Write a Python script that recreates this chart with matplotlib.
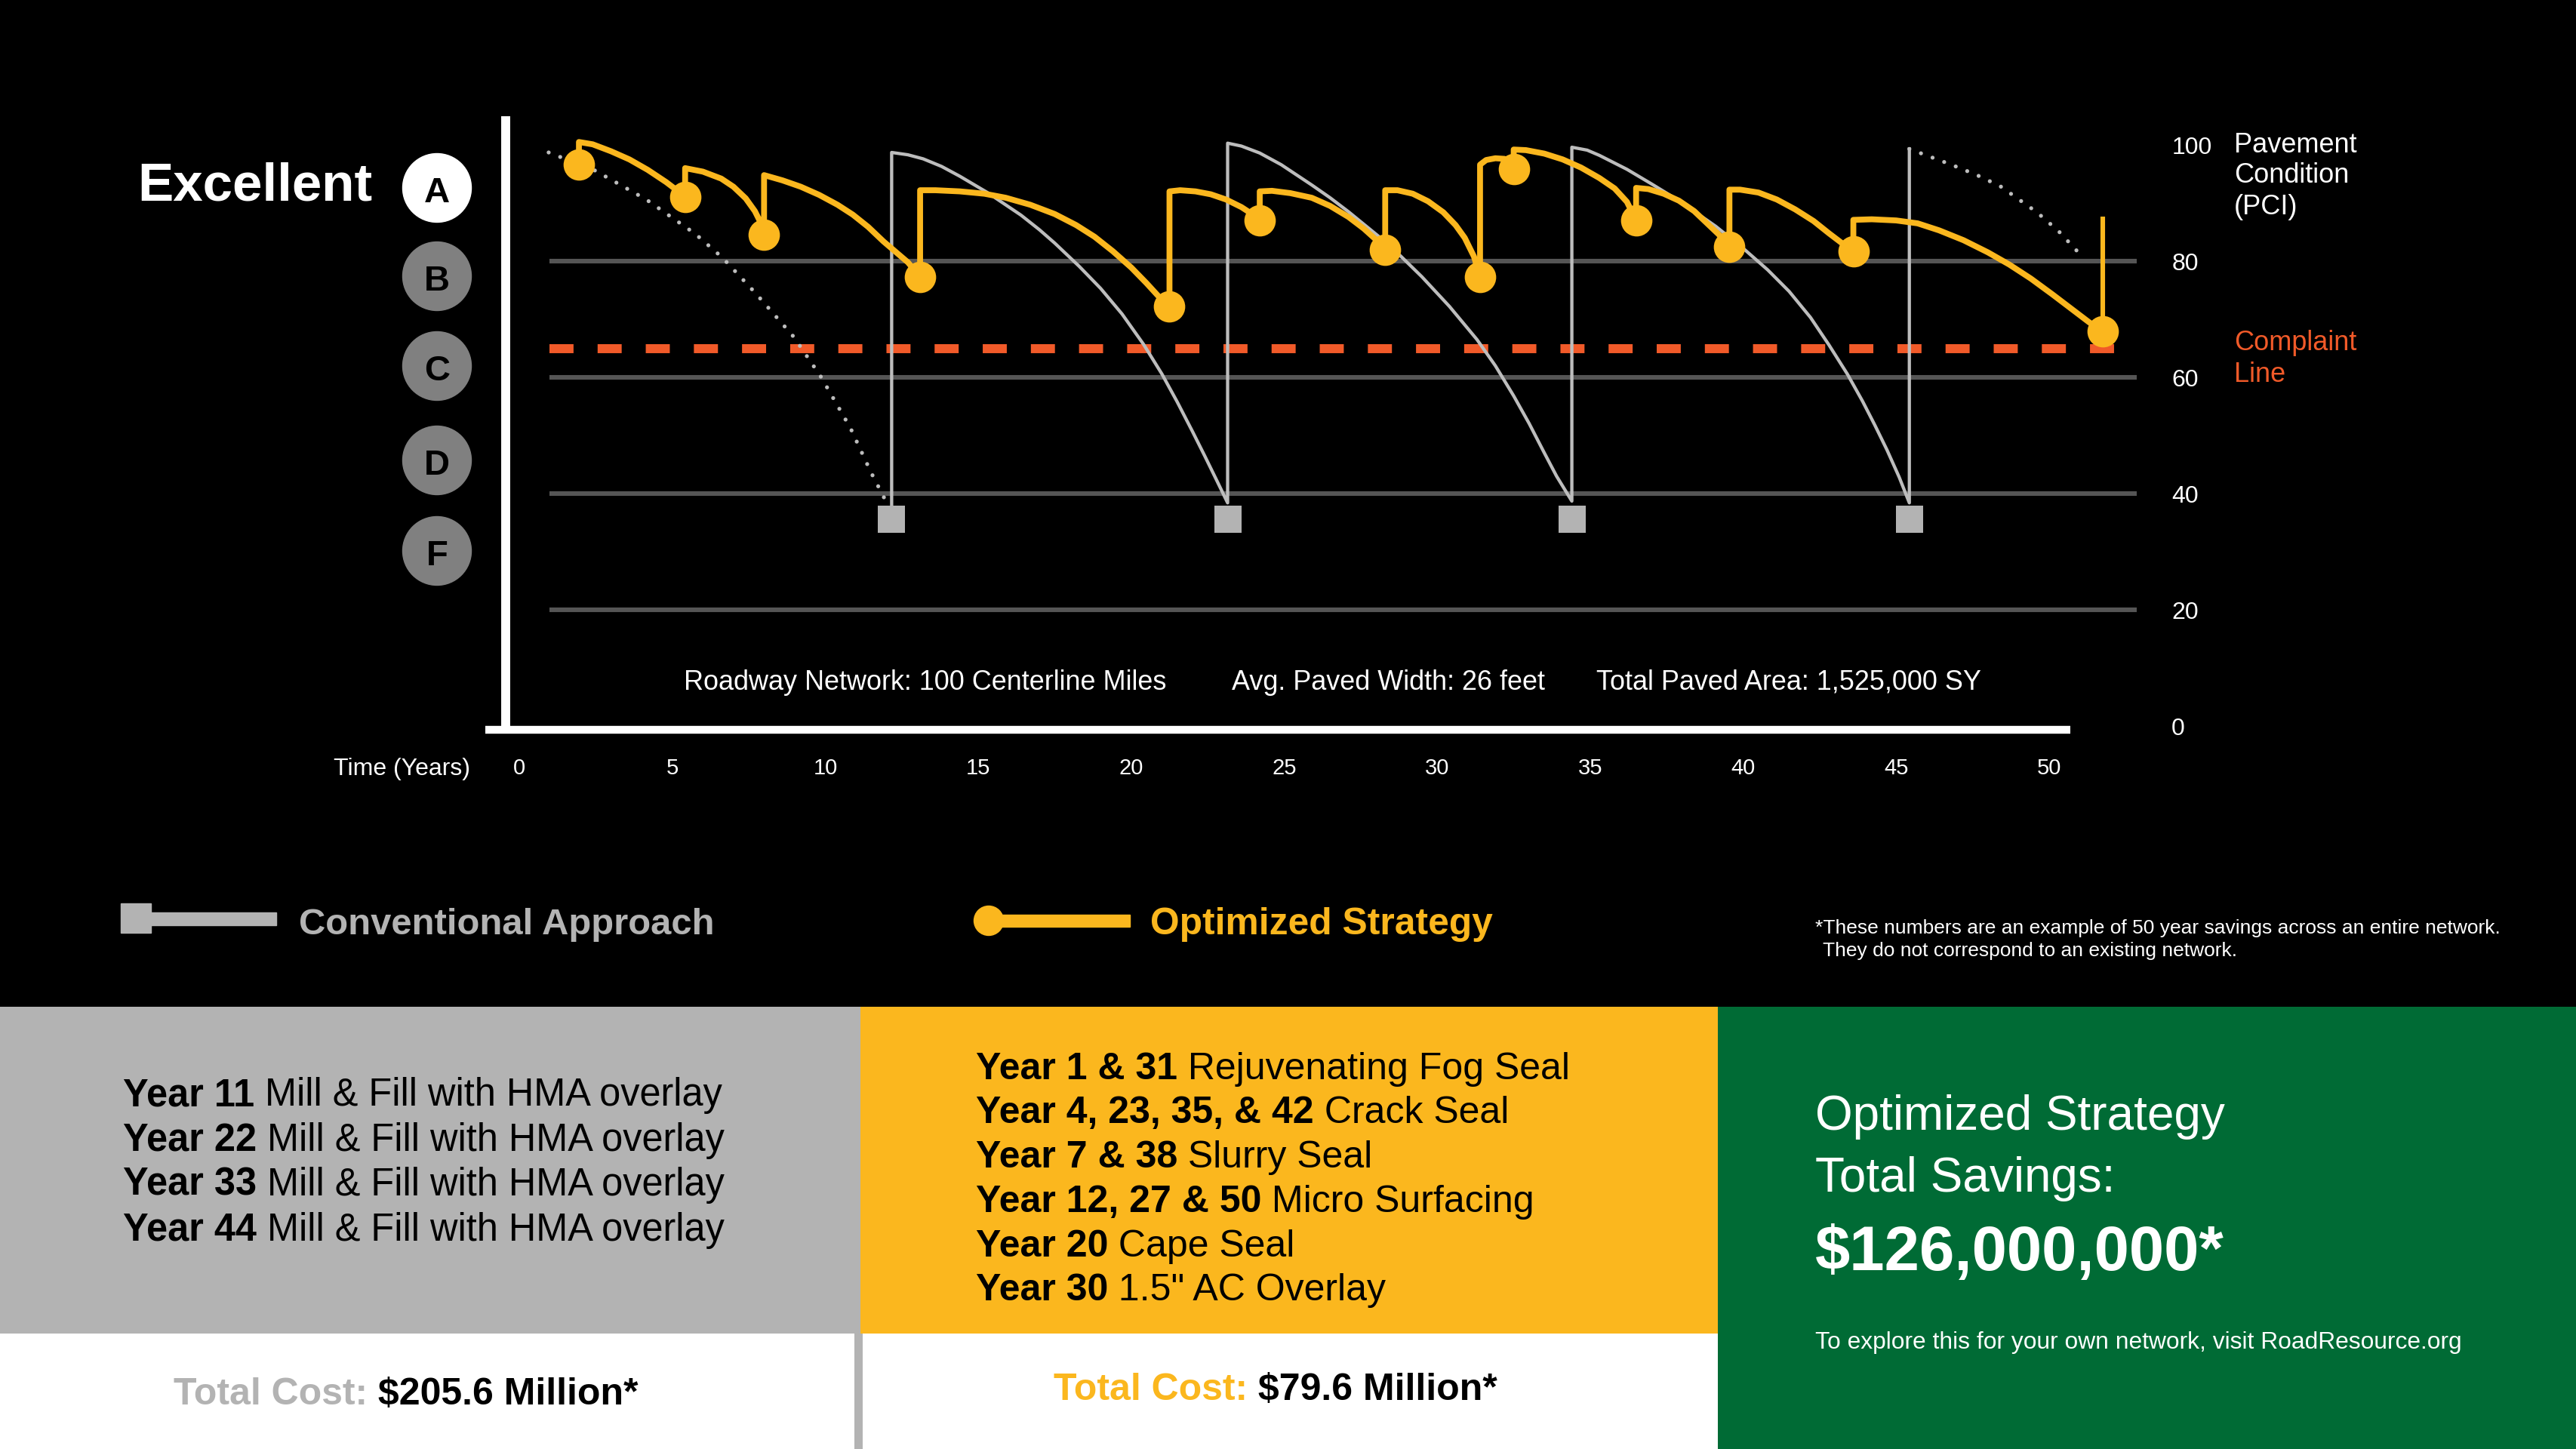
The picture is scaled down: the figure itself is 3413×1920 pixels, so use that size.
import matplotlib
matplotlib.use('Agg')
import matplotlib.pyplot as plt
from matplotlib.patches import Rectangle, Circle

plt.rcParams['font.family'] = ['Liberation Sans', 'DejaVu Sans']

W, H = 3413, 1920

# colours
YELLOW = '#FBB71E'
PANEL_GREY = '#B3B3B3'
GREEN = '#006B35'
ORANGE = '#F15A29'
GRID = '#555555'
CONV = '#BDBDBD'

# === data: x = years, y = PCI ===
year_ticks = [0, 5, 10, 15, 20, 25, 30, 35, 40, 45, 50]
pci_ticks = [0, 20, 40, 60, 80, 100]
grid_levels = [20, 40, 60, 80]
complaint_pci = 65

# conventional approach: dotted decay before the first mill & fill
conv_pre_years = [0.96, 2.47, 4.15, 5.75, 6.64, 7.72, 8.98, 9.87, 10.83, 11.5, 12.0]
conv_pre_pci = [98.7, 95.6, 90.6, 84.7, 80.6, 74.5, 66.9, 60.0, 51.2, 43.6, 38.5]

# conventional approach: solid saw-tooth (vertical jump, then decay)
conv_years = [12.17,
              12.17, 12.7, 13.2, 13.8, 14.4, 15.3, 16.4, 17.0, 17.5, 18.3, 19.0,
              19.7, 20.4, 21.0, 21.5, 22.0, 22.4, 22.8, 23.15,
              23.15, 23.6, 24.2, 24.9, 25.9, 26.5, 27.1, 28.1, 28.8, 29.5, 30.4,
              31.3, 31.9, 32.5, 33.0, 33.5, 33.9, 34.4,
              34.4, 34.9, 35.3, 36.2, 37.0, 37.9, 39.1, 40.0, 40.8, 41.5, 42.2,
              42.8, 43.4, 43.9, 44.3, 44.7, 45.1, 45.43,
              45.43]
conv_pci = [37.0,
            98.7, 98.3, 97.6, 96.3, 94.6, 91.8, 87.9, 85.4, 83.1, 79.1, 75.3,
            70.9, 65.7, 60.6, 55.8, 50.7, 46.5, 42.2, 38.4,
            100.3, 99.8, 98.6, 96.6, 93.1, 90.9, 88.5, 84.2, 80.9, 77.3, 72.2,
            66.5, 62.0, 56.8, 52.1, 47.0, 43.0, 38.7,
            99.6, 99.1, 98.2, 95.8, 93.3, 90.4, 86.0, 82.2, 78.5, 74.8, 70.3,
            65.6, 60.6, 55.9, 51.8, 47.5, 42.8, 38.4,
            99.3]

# conventional approach: dotted decay after the last mill & fill
conv_post_years = [45.43, 46.8, 47.6, 48.4, 49.6, 50.3, 50.9]
conv_post_pci = [99.3, 96.6, 94.9, 92.9, 88.4, 85.2, 81.8]

# mill & fill markers (grey squares)
mill_years = [12.17, 23.15, 34.4, 45.43]
mill_pci = [35.6, 35.6, 35.6, 35.6]

# optimized strategy path
opt_years = [1.95,
             1.95, 2.4, 3.0, 3.6, 4.2, 4.8, 5.1, 5.42,
             5.42, 6.0, 6.6, 7.0, 7.4, 7.7, 7.9, 8.0,
             8.0, 8.6, 9.2, 9.8, 10.4, 10.9, 11.4, 11.9, 12.3, 12.7, 13.1,
             13.1, 13.6, 14.4, 15.2, 15.9, 16.7, 17.5, 18.2, 18.8, 19.4, 20.0, 20.5, 20.9, 21.25,
             21.25, 21.6, 22.1, 22.6, 23.1, 23.6, 23.95, 24.2,
             24.2, 24.6, 25.2, 25.9, 26.5, 27.1, 27.6, 28.0, 28.3,
             28.3, 28.7, 29.2, 29.7, 30.2, 30.6, 30.9, 31.2, 31.4,
             31.4, 31.6, 31.9, 32.2, 32.5,
             32.5, 32.9, 33.5, 34.1, 34.7, 35.3, 35.8, 36.2, 36.5,
             36.5, 36.9, 37.4, 37.9, 38.4, 38.8, 39.2, 39.55,
             39.55, 39.9, 40.5, 41.1, 41.7, 42.3, 42.8, 43.2, 43.6,
             43.6, 44.2, 45.0, 45.7, 46.4, 47.2, 48.0, 48.7, 49.4, 50.1, 50.7, 51.3, 51.75]
opt_pci = [96.6,
           100.5, 100.1, 98.9, 97.5, 95.7, 93.6, 92.4, 91.0,
           96.0, 95.4, 94.2, 92.8, 90.8, 88.6, 86.5, 84.5,
           94.8, 93.9, 92.8, 91.4, 89.7, 88.0, 85.9, 83.4, 81.6, 79.8, 77.3,
           92.2, 92.2, 92.0, 91.6, 90.9, 89.7, 88.1, 86.2, 84.2, 81.7, 78.9, 76.2, 73.9, 72.2,
           92.0, 92.2, 92.0, 91.5, 90.6, 89.3, 88.1, 87.0,
           92.0, 92.1, 91.7, 90.9, 89.5, 87.6, 85.6, 83.7, 82.0,
           92.2, 92.2, 91.6, 90.3, 88.4, 86.2, 84.0, 80.8, 77.3,
           96.6, 97.4, 97.7, 97.6, 95.8,
           99.2, 99.1, 98.5, 97.5, 96.1, 94.3, 92.5, 90.2, 87.0,
           92.6, 92.4, 91.6, 90.4, 88.6, 86.6, 84.6, 82.5,
           92.3, 92.3, 91.8, 90.6, 88.9, 86.9, 84.8, 83.2, 81.7,
           87.1, 87.2, 87.0, 86.5, 85.3, 83.6, 81.5, 79.4, 77.0, 74.3, 71.9, 69.5, 67.9]

# treatments (yellow dots)
treat_years = [1.95, 5.42, 8.0, 13.1, 21.25, 24.2, 28.3, 31.4, 32.5, 36.5, 39.55, 43.6, 51.75]
treat_pci = [96.6, 91.0, 84.5, 77.3, 72.2, 87.0, 82.0, 77.3, 95.8, 87.0, 82.5, 81.7, 67.9]
last_years = [51.75, 51.75]
last_pci = [67.9, 87.7]

grades = ['A', 'B', 'C', 'D', 'F']

network_notes = ['Roadway Network: 100 Centerline Miles',
                 'Avg. Paved Width: 26 feet',
                 'Total Paved Area: 1,525,000 SY']

conv_plan = [('Year 11', ' Mill & Fill with HMA overlay'),
             ('Year 22', ' Mill & Fill with HMA overlay'),
             ('Year 33', ' Mill & Fill with HMA overlay'),
             ('Year 44', ' Mill & Fill with HMA overlay')]
opt_plan = [('Year 1 & 31', ' Rejuvenating Fog Seal'),
            ('Year 4, 23, 35, & 42', ' Crack Seal'),
            ('Year 7 & 38', ' Slurry Seal'),
            ('Year 12, 27 & 50', ' Micro Surfacing'),
            ('Year 20', ' Cape Seal'),
            ('Year 30', ' 1.5" AC Overlay')]
conv_cost = '$205.6 Million*'
opt_cost = '$79.6 Million*'
savings = '$126,000,000*'

# ---------------------------------------------------------------
fig = plt.figure(figsize=(W / 100, H / 100), dpi=100, facecolor='black')

# full-figure layer in pixel units (y down) for panels and free text
bg = fig.add_axes([0, 0, 1, 1], zorder=0)
bg.set_xlim(0, W)
bg.set_ylim(H, 0)
bg.axis('off')

# chart axes: year 0 -> x 688 px, 40.54 px/year; PCI 0 -> y 962 px, 7.7 px/PCI
x0, sx = 688.0, 40.54
y0, sy = 962.0, 7.7
xlim = (-2, 54)
ylim = (-9, 106)
left = x0 + xlim[0] * sx
right = x0 + xlim[1] * sx
top = y0 - ylim[1] * sy
bottom = y0 - ylim[0] * sy
ax = fig.add_axes([left / W, 1 - bottom / H, (right - left) / W, (bottom - top) / H], zorder=1)
ax.set_xlim(*xlim)
ax.set_ylim(*ylim)
ax.axis('off')

# grid + complaint line
for g in grid_levels:
    ax.plot([0.99, 52.86], [g, g], color=GRID, lw=4.4, solid_capstyle='butt', zorder=1)
ax.plot([0.99, 52.3], [complaint_pci, complaint_pci], color=ORANGE, lw=8.6,
        ls=(0, (2.67, 2.67)), dash_capstyle='butt', zorder=2)

# white axis lines
ax.plot([-0.44, -0.44], [-0.65, 104.9], color='white', lw=8.6, solid_capstyle='butt', zorder=5)
ax.plot([-1.11, 50.7], [-0.65, -0.65], color='white', lw=7.5, solid_capstyle='butt', zorder=5)

# conventional approach
dots = dict(color=CONV, lw=3.8, ls=(0, (0.01, 3.1)), dash_capstyle='round', zorder=3)
ax.plot(conv_pre_years, conv_pre_pci, **dots)
ax.plot(conv_post_years, conv_post_pci, **dots)
ax.plot(conv_years, conv_pci, color=CONV, lw=3.1, solid_joinstyle='round', zorder=3)
ax.plot(mill_years, mill_pci, 's', color=PANEL_GREY, ms=26, mew=0, zorder=3)

# optimized strategy
ax.plot(opt_years, opt_pci, color=YELLOW, lw=5.6, solid_joinstyle='round', zorder=4)
ax.plot(last_years, last_pci, color=YELLOW, lw=4.4, solid_capstyle='butt', zorder=4)
ax.plot(treat_years, treat_pci, 'o', color=YELLOW, ms=30, mew=0, zorder=4)

# tick labels
for yr in year_ticks:
    ax.text(yr, -6.9, str(yr), color='white', fontsize=21, ha='center', va='center_baseline')
ax.text(-1.6, -6.9, 'Time (Years)', color='white', fontsize=23, ha='right', va='center_baseline')
for p in pci_ticks:
    ax.text(54.0, p, str(p), color='white', fontsize=23, ha='left', va='center_baseline')

# labels right of the chart
for i, line in enumerate(['Pavement', 'Condition', '(PCI)']):
    bg.text(2960, 188 + i * 41, line, color='white', fontsize=26, ha='left', va='center_baseline')
for i, line in enumerate(['Complaint', 'Line']):
    bg.text(2960, 451 + i * 41, line, color=ORANGE, fontsize=26, ha='left', va='center_baseline')

# grade scale on the left
bg.text(493, 240, 'Excellent', color='white', fontsize=51, fontweight='bold',
        ha='right', va='center_baseline')
for i, (g, cy) in enumerate(zip(grades, [249, 366, 485, 610, 730])):
    face = 'white' if i == 0 else '#808080'
    bg.add_patch(Circle((579, cy), 45.5, color=face, zorder=2))
    bg.text(579, cy + 2, g, color='black', fontsize=34, fontweight='bold',
            ha='center', va='center_baseline', zorder=3)

for txt, x in zip(network_notes, [906, 1632, 2115]):
    bg.text(x, 900, txt, color='white', fontsize=25.9, ha='left', va='center_baseline')

# legend
bg.add_patch(Rectangle((160, 1197), 40, 39, color=PANEL_GREY))
bg.add_patch(Rectangle((200, 1209), 166, 17, color=PANEL_GREY))
bg.text(396, 1220, 'Conventional Approach', color=PANEL_GREY, fontsize=35.3,
        fontweight='bold', ha='left', va='center_baseline')
bg.add_patch(Circle((1310, 1220), 19.5, color=YELLOW))
bg.add_patch(Rectangle((1310, 1212), 187, 16, color=YELLOW))
bg.text(1524, 1220, 'Optimized Strategy', color=YELLOW, fontsize=35.8,
        fontweight='bold', ha='left', va='center_baseline')
bg.text(2405, 1227, '*These numbers are an example of 50 year savings across an entire network.',
        color='white', fontsize=19, ha='left', va='center_baseline')
bg.text(2415, 1258, 'They do not correspond to an existing network.',
        color='white', fontsize=19, ha='left', va='center_baseline')

# bottom panels
bg.add_patch(Rectangle((0, 1334), 1140, 433, color=PANEL_GREY, lw=0))
bg.add_patch(Rectangle((1139.5, 1334), 1137, 433, color=YELLOW, lw=0))
bg.add_patch(Rectangle((0, 1767), 2276, H - 1767, color='white', lw=0))
bg.add_patch(Rectangle((1132, 1767), 11, H - 1767, color=PANEL_GREY, lw=0))
bg.add_patch(Rectangle((2276, 1334), W - 2276, H - 1334, color=GREEN, lw=0))

renderer = fig.canvas.get_renderer()


def two_part(x, y, first, second, size, c1, c2, w2='normal', center=False):
    t1 = bg.text(x, y, first, fontsize=size, fontweight='bold', color=c1,
                 ha='left', va='center_baseline')
    t2 = bg.text(x, y, second, fontsize=size, fontweight=w2, color=c2,
                 ha='left', va='center_baseline')
    w1 = t1.get_window_extent(renderer).width
    wt2 = t2.get_window_extent(renderer).width
    start = x - (w1 + wt2) / 2 if center else x
    t1.set_x(start)
    t2.set_x(start + w1)


for (b, r), y in zip(conv_plan, [1446, 1506, 1565, 1625]):
    two_part(163, y, b, r, 36.4, 'black', 'black')
for (b, r), y in zip(opt_plan, [1412, 1470, 1529, 1588, 1647, 1705]):
    two_part(1293, y, b, r, 36, 'black', 'black')

two_part(538, 1843, 'Total Cost:', ' ' + conv_cost, 36, PANEL_GREY, 'black', w2='bold', center=True)
two_part(1690, 1837, 'Total Cost:', ' ' + opt_cost, 36, YELLOW, 'black', w2='bold', center=True)

bg.text(2405, 1473, 'Optimized Strategy', color='white', fontsize=46, ha='left', va='center_baseline')
bg.text(2405, 1556, 'Total Savings:', color='white', fontsize=46, ha='left', va='center_baseline')
bg.text(2405, 1653, savings, color='white', fontsize=60, fontweight='bold',
        ha='left', va='center_baseline')
bg.text(2405, 1776, 'To explore this for your own network, visit RoadResource.org',
        color='white', fontsize=22.9, ha='left', va='center_baseline')

fig.savefig('out.png', dpi=100, facecolor='black')
plt.close(fig)
